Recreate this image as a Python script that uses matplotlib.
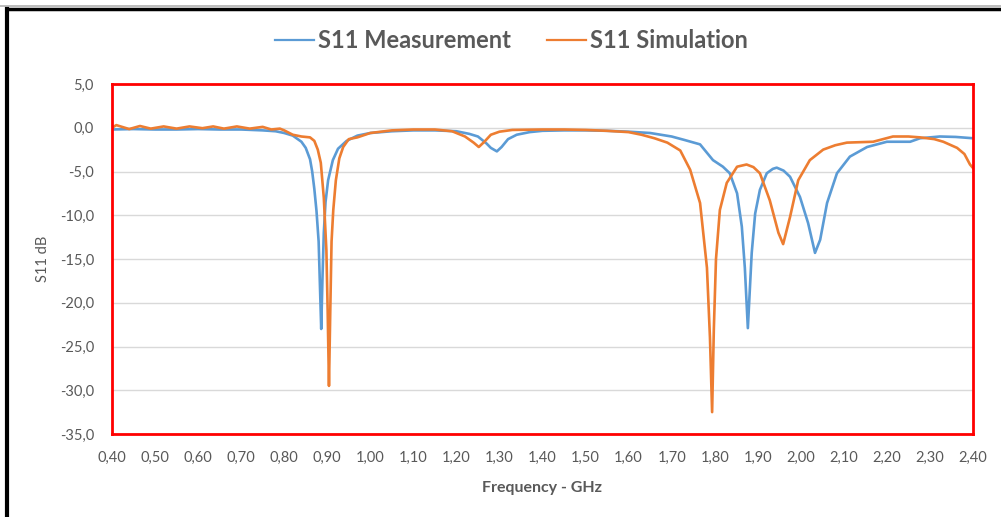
import matplotlib.pyplot as plt
from matplotlib.lines import Line2D

plt.rcParams['font.family'] = ['Lato', 'DejaVu Sans']

## measured S11 (GHz, dB)
freq_meas = [0.40, 0.45, 0.50, 0.55, 0.60, 0.65, 0.70, 0.75, 0.78, 0.80, 0.82, 0.84, 0.85, 0.86,
             0.865, 0.87, 0.875, 0.88, 0.883, 0.886, 0.889, 0.892, 0.896, 0.902, 0.913, 0.925,
             0.945, 0.97, 1.00, 1.05, 1.10, 1.15, 1.20, 1.23, 1.25, 1.27, 1.28, 1.294, 1.305,
             1.32, 1.34, 1.37, 1.40, 1.45, 1.50, 1.55, 1.60, 1.65, 1.70, 1.73, 1.766, 1.796,
             1.819, 1.835, 1.852, 1.863, 1.87, 1.877, 1.886, 1.894, 1.905, 1.921, 1.935, 1.944,
             1.96, 1.975, 1.998, 2.017, 2.033, 2.045, 2.061, 2.084, 2.114, 2.154, 2.20, 2.254,
             2.277, 2.323, 2.36, 2.40]
s11_meas = [-0.2, -0.15, -0.2, -0.2, -0.15, -0.2, -0.2, -0.3, -0.4, -0.6, -0.9, -1.6, -2.3, -3.6,
            -5.0, -7.0, -9.5, -13.0, -18.0, -23.0, -17.0, -12.0, -8.5, -6.0, -3.7, -2.4,
            -1.5, -0.9, -0.6, -0.4, -0.3, -0.3, -0.4, -0.7, -1.0, -1.8, -2.3, -2.7, -2.2,
            -1.3, -0.8, -0.5, -0.35, -0.3, -0.3, -0.35, -0.45, -0.6, -1.0, -1.4, -1.9, -3.7,
            -4.45, -5.2, -7.5, -11.3, -16.0, -22.9, -14.3, -9.8, -7.1, -5.2, -4.7, -4.56,
            -4.9, -5.6, -7.9, -10.9, -14.3, -12.8, -8.6, -5.2, -3.3, -2.2, -1.6, -1.6,
            -1.2, -1.0, -1.05, -1.2]

## simulated S11 (GHz, dB)
freq_sim = [0.40, 0.41, 0.43, 0.44, 0.465, 0.49, 0.52, 0.55, 0.58, 0.61, 0.635, 0.66, 0.69, 0.72,
            0.75, 0.77, 0.79, 0.80, 0.82, 0.84, 0.86, 0.87, 0.878, 0.885, 0.892, 0.898, 0.901,
            0.904, 0.907, 0.91, 0.914, 0.92, 0.928, 0.937, 0.95, 0.97, 1.00, 1.05, 1.10, 1.15,
            1.19, 1.22, 1.24, 1.252, 1.265, 1.28, 1.30, 1.33, 1.40, 1.45, 1.50, 1.55, 1.60,
            1.63, 1.66, 1.69, 1.72, 1.743, 1.766, 1.782, 1.789, 1.794, 1.798, 1.803, 1.812,
            1.828, 1.852, 1.874, 1.89, 1.905, 1.928, 1.948, 1.959, 1.975, 1.994, 2.021, 2.052,
            2.08, 2.107, 2.168, 2.214, 2.25, 2.277, 2.31, 2.331, 2.363, 2.38, 2.393, 2.40]
s11_sim = [0.0, 0.3, 0.0, -0.15, 0.2, -0.1, 0.15, -0.1, 0.15, -0.05, 0.15, -0.1, 0.15, -0.1,
           0.1, -0.2, -0.1, -0.3, -0.8, -1.0, -1.1, -1.5, -2.5, -4.0, -8.0, -14.0, -21.0,
           -29.5, -21.0, -13.0, -9.4, -6.0, -3.5, -2.2, -1.3, -1.1, -0.6, -0.3, -0.2, -0.2,
           -0.4, -1.0, -1.7, -2.2, -1.6, -0.8, -0.45, -0.25, -0.2, -0.2, -0.25, -0.35, -0.5,
           -0.8, -1.2, -1.7, -2.6, -4.8, -8.6, -16.0, -24.0, -32.5, -23.0, -15.0, -9.4,
           -6.3, -4.45, -4.2, -4.5, -5.2, -8.3, -12.0, -13.3, -10.2, -6.0, -3.7, -2.5,
           -2.0, -1.7, -1.6, -1.0, -1.0, -1.1, -1.3, -1.6, -2.3, -3.0, -4.2, -4.6]

x_ticks = [0.40 + 0.1 * i for i in range(21)]
y_ticks = [-35, -30, -25, -20, -15, -10, -5, 0, 5]

grey = '#595959'

fig = plt.figure(figsize=(10.01, 5.17), dpi=100)
ax = fig.add_axes([112 / 1001, 1 - 434 / 517, 861 / 1001, 350 / 517])

ax.plot(freq_meas, s11_meas, color='#5B9BD5', lw=1.9, label='S11 Measurement', zorder=3)
ax.plot(freq_sim, s11_sim, color='#ED7D31', lw=1.9, label='S11 Simulation', zorder=3)

ax.set_xlim(0.40, 2.40)
ax.set_ylim(-35, 5)
ax.set_xticks(x_ticks)
ax.set_xticklabels([f'{v:.2f}'.replace('.', ',') for v in x_ticks])
ax.set_yticks(y_ticks)
ax.set_yticklabels([f'{v:.1f}'.replace('.', ',') for v in y_ticks])
ax.tick_params(length=0, labelsize=10.5, labelcolor=grey)
ax.tick_params(axis='x', pad=12)
ax.tick_params(axis='y', pad=13)
ax.grid(axis='y', color='#d9d9d9', lw=1.0)
ax.set_axisbelow(True)
for s in ax.spines.values():
    s.set_color('#ff0000')
    s.set_linewidth(2.0)
    s.set_zorder(4)

ax.set_ylabel('S11 dB', fontsize=10.5, color=grey, labelpad=7)
ax.set_xlabel('Frequency - GHz', fontsize=11.5, color=grey, fontweight='bold', labelpad=12)

leg = fig.legend(loc='center', bbox_to_anchor=(0.511, 0.921), ncol=2, frameon=False,
                 prop={'size': 17, 'weight': 'bold'}, labelcolor=grey,
                 handlelength=1.65, handletextpad=0.15, columnspacing=1.55)
for h in leg.get_lines():
    h.set_linewidth(1.6)

## frame on the left and top edges
W, H = 1001, 517
fig.add_artist(Line2D([0, W], [H - 6, H - 6], transform=None, color='#b0b0b0', lw=1.2))
fig.add_artist(Line2D([6.5, W], [H - 9, H - 9], transform=None, color='black', lw=2.5))
fig.add_artist(Line2D([6.5, 6.5], [0, H - 9], transform=None, color='black', lw=3.0))

fig.savefig('out.png', dpi=100)
